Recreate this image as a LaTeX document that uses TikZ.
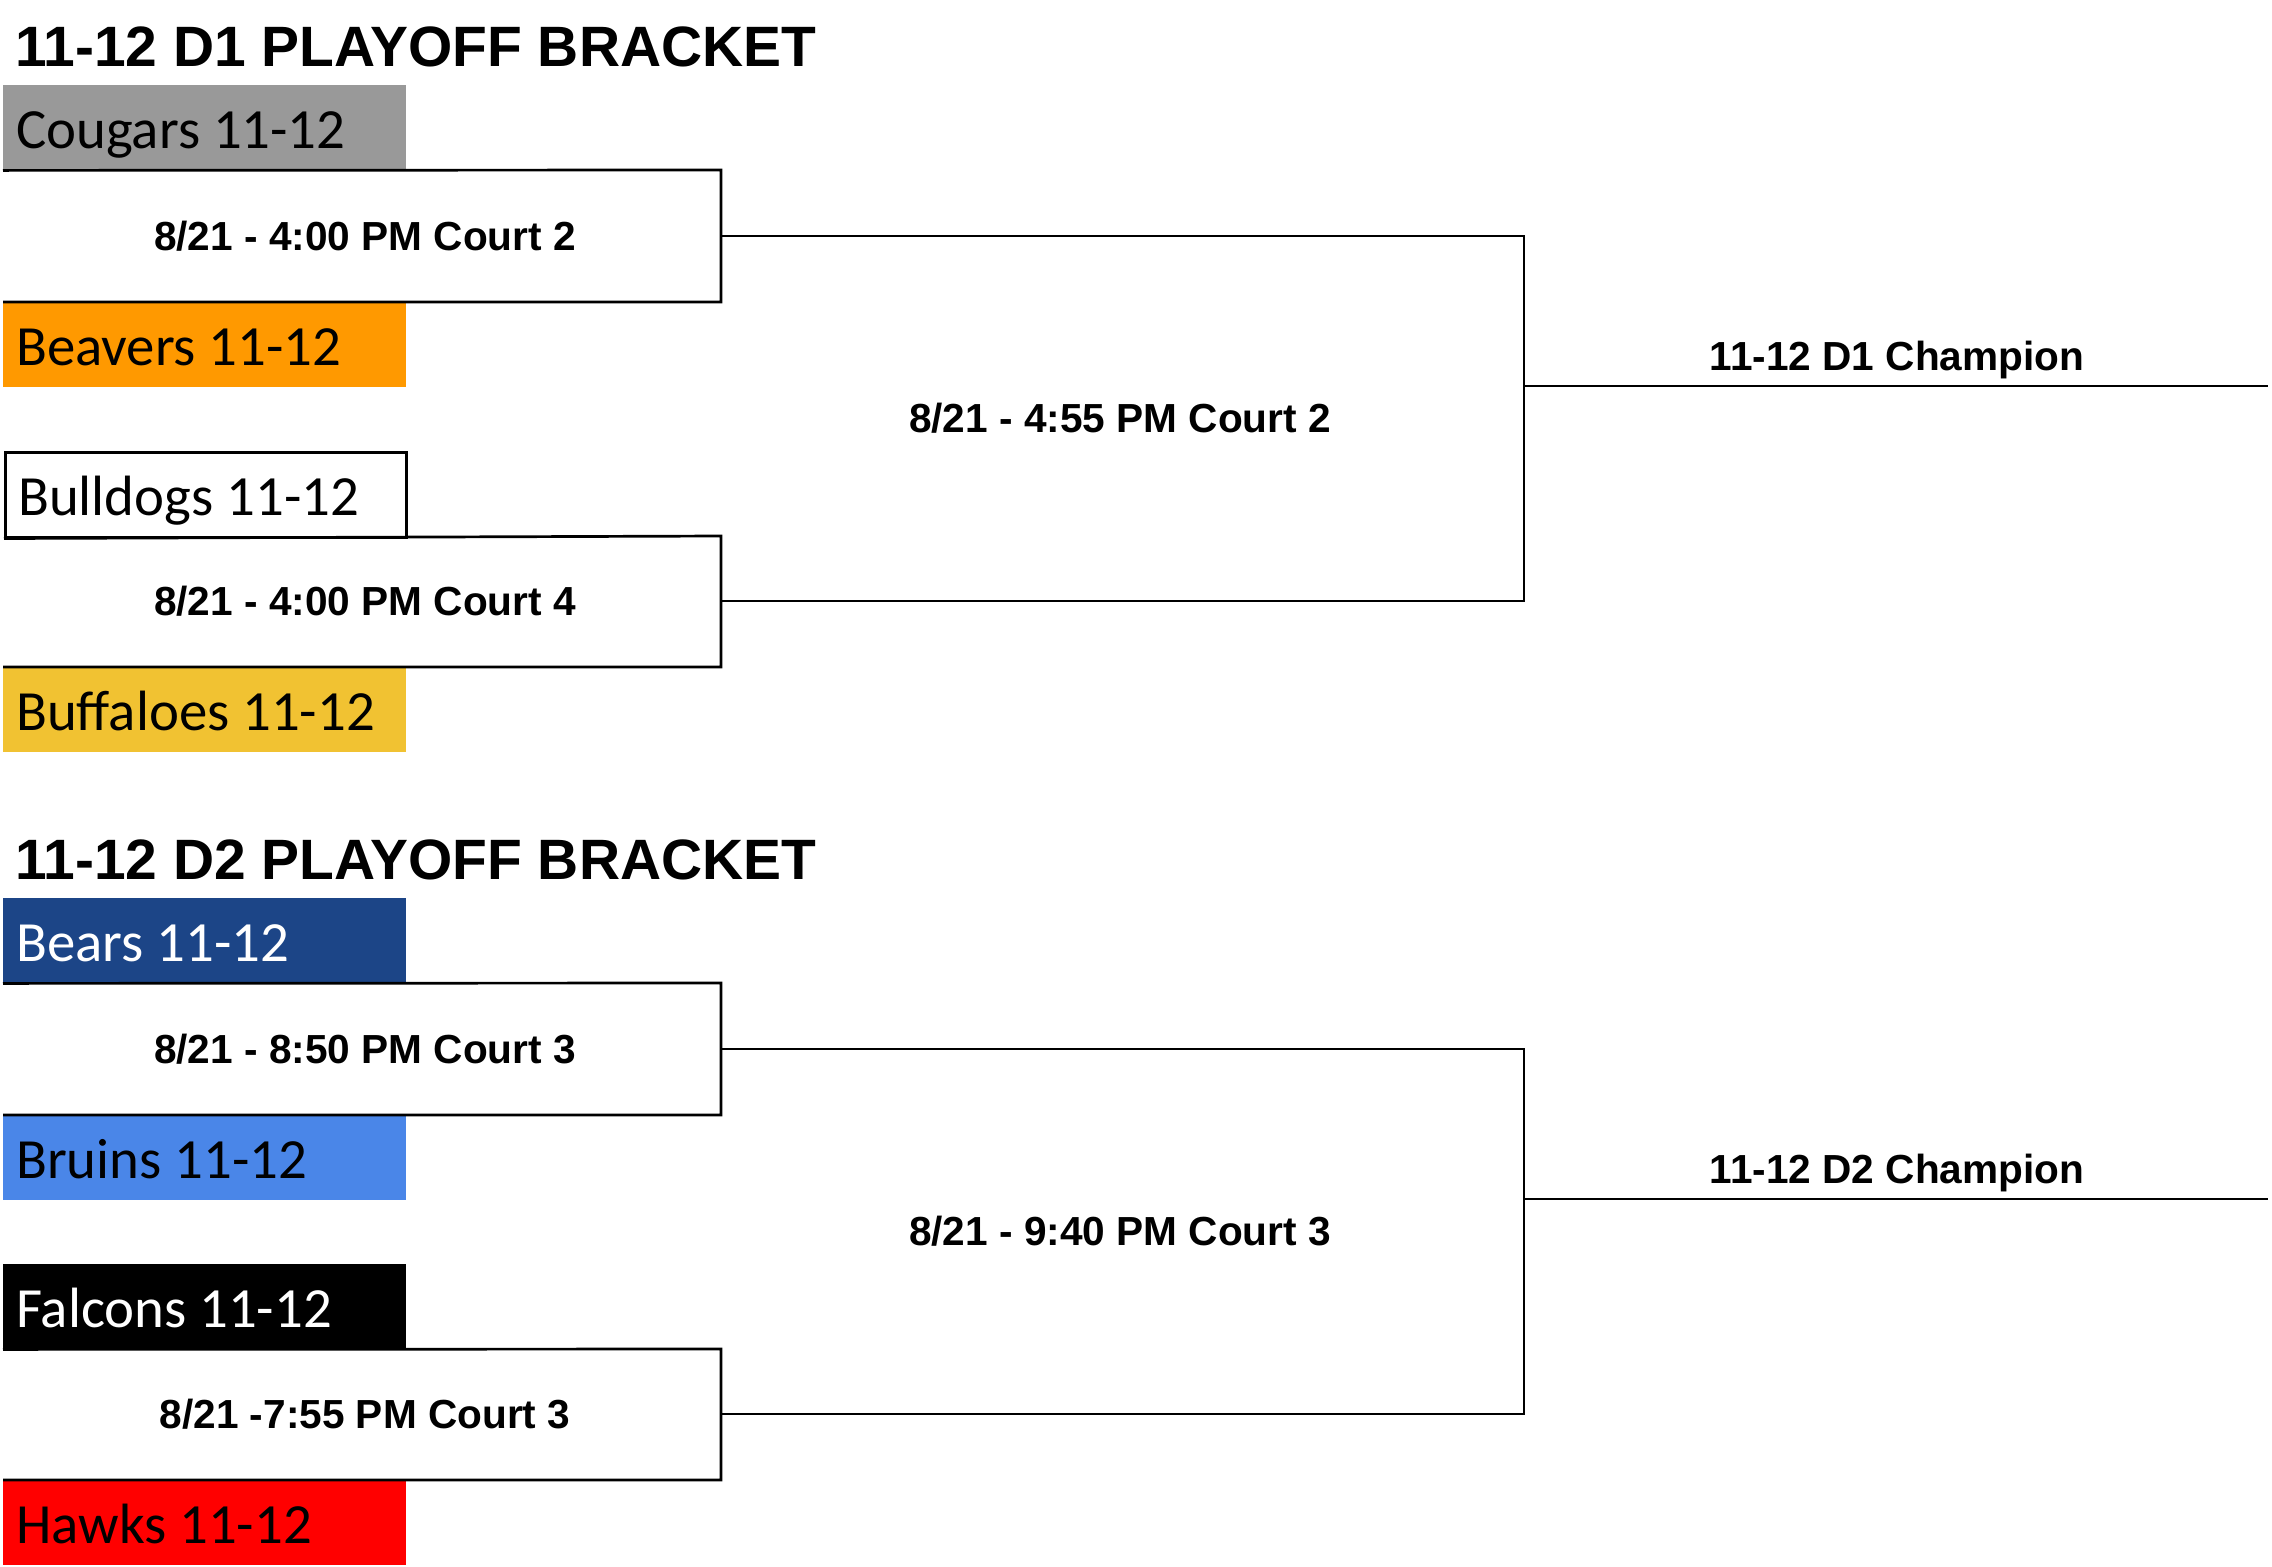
\documentclass[tikz,border=0pt]{standalone}
\usepackage{fontspec}
\setmainfont{Liberation Sans}
\newfontfamily\teamfam{Carlito}
\definecolor{cgray}{HTML}{999999}
\definecolor{corange}{HTML}{FF9900}
\definecolor{cgold}{HTML}{F1C232}
\definecolor{cdblue}{HTML}{1C4587}
\definecolor{cblue}{HTML}{4A86E8}
\definecolor{cred}{HTML}{FF0000}
\tikzset{
  teambox/.style={anchor=north west, inner xsep=13pt, inner ysep=0pt,
    text width=377pt, align=flush left, text height=63pt, text depth=22pt,
    font=\teamfam\fontsize{56.8}{60}\selectfont},
  titletext/.style={anchor=base west, inner sep=0pt,
    font=\bfseries\fontsize{56.9}{60}\selectfont},
  matchtext/.style={anchor=base, inner sep=0pt,
    font=\bfseries\fontsize{40.6}{44}\selectfont},
  bline/.style={line width=2.7pt, black}
}
\begin{document}
\begin{tikzpicture}[x=1pt, y=-1pt]
\useasboundingbox (0,0) rectangle (2272,1566);
\fill[white] (0,0) rectangle (2272,1566);

% ---------------- D1 ----------------
\node[titletext] (d1title) at (15,66) {11-12 D1 PLAYOFF BRACKET};
\node[teambox, fill=cgray] (cougars) at (3,85) {Cougars 11-12};
\node[teambox, fill=corange] (beavers) at (3,302) {Beavers 11-12};
\node[teambox, fill=white, draw=black, line width=2.5pt, text width=375pt] (bulldogs) at (4,451) {Bulldogs 11-12};
\node[teambox, fill=cgold] (buffaloes) at (3,667) {Buffaloes 11-12};

\coordinate (d1m1tr) at (721,170);
\coordinate (d1m1br) at (721,302);
\coordinate (d1m1r) at (721,236);
\coordinate (d1m2tr) at (721,536);
\coordinate (d1m2br) at (721,667);
\coordinate (d1m2r) at (721,601);
\coordinate (d1r2t) at (1524,236);
\coordinate (d1r2b) at (1524,601);
\coordinate (d1r2m) at (1524,386);
\coordinate (d1end) at (2268,386);

\node[matchtext] (d1m1) at (365,250) {8/21 - 4:00 PM Court 2};
\node[matchtext] (d1m2) at (365,615) {8/21 - 4:00 PM Court 4};
\node[matchtext] (d1r2) at (1120,432) {8/21 - 4:55 PM Court 2};
\node[matchtext] (d1champ) at (1897,370) {11-12 D1 Champion};

\draw[bline] (cougars.south west) -- (d1m1tr) -- (d1m1br) -- (beavers.north west);
\draw[bline] (bulldogs.south west) -- (d1m2tr) -- (d1m2br) -- (buffaloes.north west);
\draw[bline] (d1m1r) -- (d1r2t) -- (d1r2b) -- (d1m2r);
\draw[bline] (d1r2m) -- (d1end);

% ---------------- D2 ----------------
\begin{scope}[yshift=-813pt]
\node[titletext] (d2title) at (15,66) {11-12 D2 PLAYOFF BRACKET};
\node[teambox, fill=cdblue, text=white] (bears) at (3,85) {Bears 11-12};
\node[teambox, fill=cblue] (bruins) at (3,302) {Bruins 11-12};
\node[teambox, fill=black, text=white] (falcons) at (3,451) {Falcons 11-12};
\node[teambox, fill=cred] (hawks) at (3,667) {Hawks 11-12};

\coordinate (d2m1tr) at (721,170);
\coordinate (d2m1br) at (721,302);
\coordinate (d2m1r) at (721,236);
\coordinate (d2m2tr) at (721,536);
\coordinate (d2m2br) at (721,667);
\coordinate (d2m2r) at (721,601);
\coordinate (d2r2t) at (1524,236);
\coordinate (d2r2b) at (1524,601);
\coordinate (d2r2m) at (1524,386);
\coordinate (d2end) at (2268,386);

\node[matchtext] (d2m1) at (365,250) {8/21 - 8:50 PM Court 3};
\node[matchtext] (d2m2) at (365,615) {8/21 -7:55 PM Court 3};
\node[matchtext] (d2r2) at (1120,432) {8/21 - 9:40 PM Court 3};
\node[matchtext] (d2champ) at (1897,370) {11-12 D2 Champion};

\draw[bline] (bears.south west) -- (d2m1tr) -- (d2m1br) -- (bruins.north west);
\draw[bline] (falcons.south west) -- (d2m2tr) -- (d2m2br) -- (hawks.north west);
\draw[bline] (d2m1r) -- (d2r2t) -- (d2r2b) -- (d2m2r);
\draw[bline] (d2r2m) -- (d2end);
\end{scope}
\end{tikzpicture}
\end{document}
